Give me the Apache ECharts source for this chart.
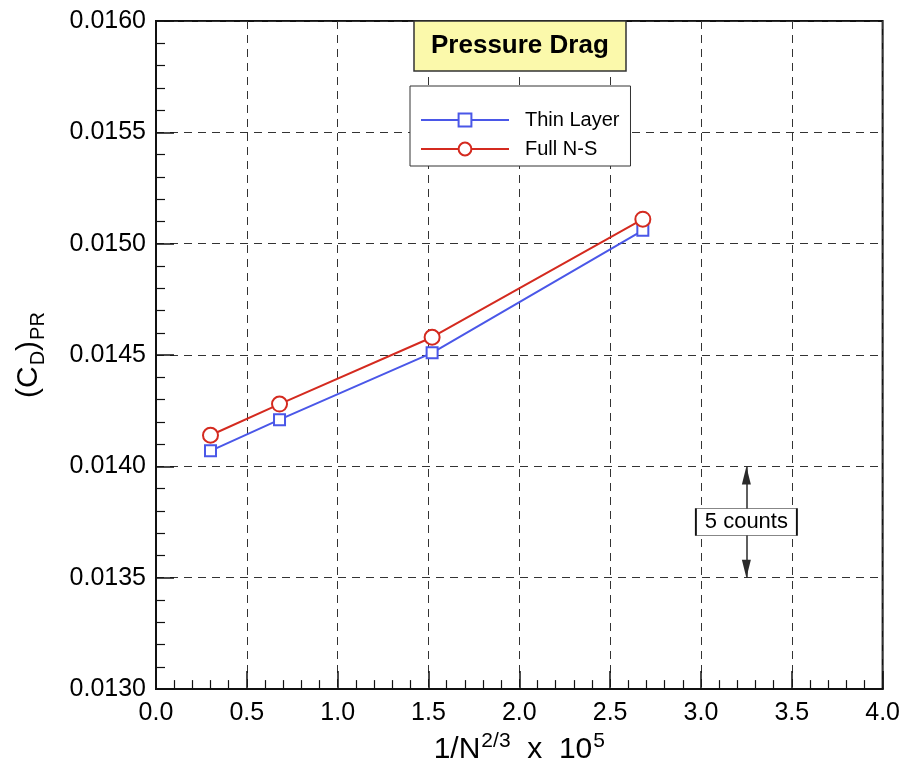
<!DOCTYPE html>
<html>
<head>
<meta charset="utf-8">
<title>Pressure Drag</title>
<script src="https://cdn.jsdelivr.net/npm/echarts@6/dist/echarts.min.js"></script>
<style>
  html, body { margin: 0; padding: 0; background: #fff; }
  #chart { width: 903px; height: 770px; }
</style>
</head>
<body>
<div id="chart"></div>
<script>
// Grid refinement parameter 1/N^(2/3) x 10^5
const gridParam = [0.30, 0.68, 1.52, 2.68];
// Pressure drag coefficient per model
const thinLayer = [0.01407, 0.01421, 0.01451, 0.01506];
const fullNS = [0.01414, 0.01428, 0.01458, 0.01511];
const seriesNames = ['Thin Layer', 'Full N-S'];
// "5 counts" scale bar
const countsX = 3.25;
const countsRange = [0.0140, 0.0135];
const countsLabel = '5 counts';

const BLUE = '#4a57e8';
const RED = '#d42a1f';
const FONT = '"Liberation Sans", Arial, Helvetica, sans-serif';

const chart = echarts.init(document.getElementById('chart'), null, { renderer: 'canvas' });

const pairs = (xs, ys) => xs.map((x, i) => [x, ys[i]]);

const dashed = { color: '#333', width: 1, type: [8, 6] };

chart.setOption({
  animation: false,
  backgroundColor: '#fff',
  textStyle: { fontFamily: FONT },
  title: {
    text: 'Pressure Drag',
    left: 414,
    top: 21,
    padding: [12, 17, 12, 17],
    backgroundColor: '#fbf9ab',
    borderColor: '#333',
    borderWidth: 1.5,
    textStyle: { fontFamily: FONT, fontSize: 26, fontWeight: 'bold', color: '#000', lineHeight: 26 }
  },
  legend: {
    data: seriesNames,
    orient: 'vertical',
    left: 410,
    top: 86,
    padding: [24, 11, 7, 10],
    itemGap: 9,
    itemWidth: 88,
    itemHeight: 16,
    backgroundColor: '#fff',
    borderColor: '#333',
    borderWidth: 1,
    textStyle: { fontFamily: FONT, fontSize: 20, color: '#000', lineHeight: 20, padding: [0, 0, 0, 11] }
  },
  grid: {
    left: 156,
    right: 20,
    top: 21,
    bottom: 80,
    show: true,
    borderColor: '#111',
    borderWidth: 2,
    backgroundColor: 'transparent'
  },
  xAxis: {
    type: 'value',
    min: 0,
    max: 4,
    interval: 0.5,
    name: '{n|1/N}{p|2/3}{n|  x  10}{p|5}',
    nameLocation: 'middle',
    nameGap: 36,
    nameTextStyle: {
      rich: {
        n: { fontFamily: FONT, fontSize: 30, color: '#000', lineHeight: 34, verticalAlign: 'bottom' },
        p: { fontFamily: FONT, fontSize: 21, color: '#000', lineHeight: 16, verticalAlign: 'top', padding: [0, 0, 0, 1] }
      }
    },
    axisLine: { show: true, onZero: false, lineStyle: { color: '#111', width: 2 } },
    axisTick: { show: true, inside: true, length: 18, lineStyle: { color: '#111', width: 1.5 } },
    minorTick: { show: true, splitNumber: 5, length: 9, lineStyle: { color: '#111', width: 1.2 } },
    splitLine: { show: true, lineStyle: dashed },
    axisLabel: {
      margin: 12,
      fontFamily: FONT,
      fontSize: 25,
      color: '#000',
      formatter: v => v.toFixed(1)
    }
  },
  yAxis: {
    type: 'value',
    min: 0.0130,
    max: 0.0160,
    interval: 0.0005,
    name: '{n|(C}{s|D}{n|)}{s|PR}',
    nameLocation: 'middle',
    nameGap: 108,
    nameRotate: 90,
    nameTextStyle: {
      rich: {
        n: { fontFamily: FONT, fontSize: 30, color: '#000', lineHeight: 34, verticalAlign: 'top' },
        s: { fontFamily: FONT, fontSize: 20, color: '#000', lineHeight: 16, verticalAlign: 'bottom', padding: [0, 0, 0, 1] }
      }
    },
    axisLine: { show: true, onZero: false, lineStyle: { color: '#111', width: 2 } },
    axisTick: { show: true, inside: true, length: 18, lineStyle: { color: '#111', width: 1.5 } },
    minorTick: { show: true, splitNumber: 5, length: 9, lineStyle: { color: '#111', width: 1.2 } },
    splitLine: { show: true, lineStyle: dashed },
    axisLabel: {
      margin: 10,
      fontFamily: FONT,
      fontSize: 25,
      color: '#000',
      formatter: v => v.toFixed(4)
    }
  },
  series: [
    {
      name: seriesNames[0],
      type: 'line',
      data: pairs(gridParam, thinLayer),
      color: BLUE,
      symbol: 'rect',
      symbolSize: 11,
      showAllSymbol: true,
      lineStyle: { color: BLUE, width: 2 },
      itemStyle: { color: '#fff', borderColor: BLUE, borderWidth: 2 },
      z: 3,
      markLine: {
        silent: true,
        animation: false,
        symbol: ['triangle', 'triangle'],
        symbolSize: [9, 18],
        symbolOffset: [[0, 9], [0, 9]],
        lineStyle: { color: '#2a2a2a', width: 1.5, type: 'solid' },
        label: { show: false },
        emphasis: { disabled: true },
        data: [[
          { coord: [countsX, countsRange[0]] },
          { coord: [countsX, countsRange[1]] }
        ]]
      },
      markPoint: {
        silent: true,
        animation: false,
        z: 10,
        data: [{
          coord: [countsX, (countsRange[0] + countsRange[1]) / 2],
          symbol: 'rect',
          symbolSize: [101, 27],
          itemStyle: { color: '#fff', borderColor: '#111', borderWidth: 1 },
          label: {
            show: true,
            position: 'inside',
            formatter: countsLabel,
            fontFamily: FONT,
            fontSize: 22,
            color: '#000'
          }
        }]
      }
    },
    {
      name: seriesNames[1],
      type: 'line',
      data: pairs(gridParam, fullNS),
      color: RED,
      symbol: 'circle',
      symbolSize: 15,
      showAllSymbol: true,
      lineStyle: { color: RED, width: 2 },
      itemStyle: { color: '#fff', borderColor: RED, borderWidth: 2 },
      z: 3
    }
  ]
});
</script>
</body>
</html>
